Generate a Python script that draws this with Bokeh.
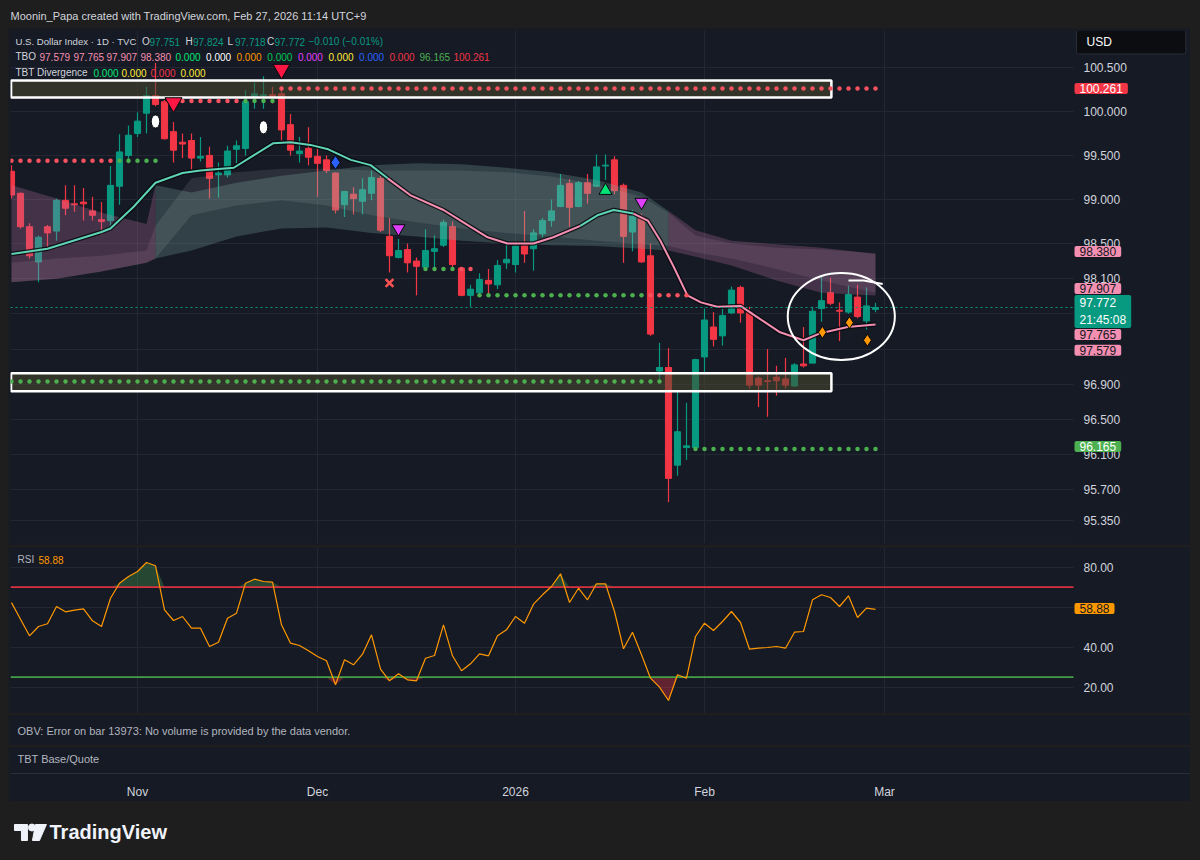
import numpy as np
from bokeh.plotting import figure
from bokeh.models import (Range1d, FixedTicker, Label, ColumnDataSource,
                          NumeralTickFormatter, BoxAnnotation)
from bokeh.layouts import column
from bokeh.embed import file_html
from bokeh.resources import INLINE

# ---------------- data ----------------
month_ticks = [14, 34, 56, 77, 97]
month_labels = ["Nov", "Dec", "2026", "Feb", "Mar"]
price_ticks = [95.35, 95.7, 96.1, 96.5, 96.9, 97.3, 97.7, 98.1, 98.5, 99.0, 99.5, 100.0, 100.5]
rsi_ticks = [20, 40, 60, 80]

opens = [99.32, 99.07, 98.69, 98.29, 98.69, 98.64, 98.99, 98.95, 98.97, 98.87,
         98.77, 98.76, 99.15, 99.50, 99.75, 99.98, 100.18, 100.11, 99.77, 99.65,
         99.67, 99.47, 99.50, 99.28, 99.28, 99.57, 99.58, 100.17, 100.18, 100.19,
         100.20, 99.85, 99.52, 99.58, 99.49, 99.45, 99.30, 98.94, 99.06, 98.98,
         99.07, 99.24, 98.58, 98.34, 98.43, 98.30, 98.23, 98.41, 98.48, 98.69,
         98.22, 97.91, 97.94, 98.08, 98.03, 98.28, 98.26, 98.48, 98.44, 98.61,
         98.76, 98.92, 99.18, 98.92, 99.19, 99.15, 99.38, 99.45, 99.16, 98.63,
         98.80, 98.36, 97.05, 97.09, 95.98, 96.18, 96.18, 97.21, 97.55, 97.45,
         97.71, 98.00, 97.72, 96.97, 96.94, 96.98, 96.96, 96.88, 97.13, 97.14,
         97.76, 97.94, 97.74, 97.72, 97.89, 97.62, 97.751]
highs = [99.39, 99.08, 98.73, 98.59, 98.71, 99.01, 99.16, 99.16, 99.13, 99.03,
         98.97, 99.38, 99.74, 99.84, 99.99, 100.28, 100.55, 100.13, 99.88, 99.75,
         99.75, 99.71, 99.60, 99.42, 99.61, 99.67, 100.24, 100.33, 100.40, 100.28,
         100.28, 99.97, 99.71, 99.82, 99.58, 99.50, 99.31, 99.10, 99.14, 99.24,
         99.33, 99.27, 98.79, 98.55, 98.50, 98.34, 98.66, 98.59, 98.77, 98.75,
         98.23, 98.03, 98.16, 98.21, 98.31, 98.50, 98.52, 98.87, 98.66, 98.79,
         99.00, 99.29, 99.23, 99.21, 99.29, 99.51, 99.51, 99.49, 99.18, 98.88,
         98.84, 98.50, 97.37, 97.31, 96.81, 96.69, 97.19, 97.76, 97.72, 97.76,
         98.01, 98.02, 97.78, 96.99, 97.30, 97.11, 97.20, 97.14, 97.55, 97.78,
         98.12, 98.11, 97.83, 98.02, 98.03, 98.00, 97.824]
lows = [99.01, 98.67, 98.33, 98.06, 98.46, 98.53, 98.82, 98.86, 98.76, 98.76,
        98.60, 98.66, 98.94, 99.41, 99.71, 99.75, 100.06, 99.68, 99.42, 99.47,
        99.34, 99.43, 99.01, 99.02, 99.25, 99.41, 99.50, 100.03, 100.03, 100.09,
        99.67, 99.50, 99.42, 99.39, 99.03, 99.30, 98.84, 98.80, 98.83, 98.83,
        98.99, 98.63, 98.17, 98.33, 98.17, 97.91, 98.21, 98.22, 98.46, 98.22,
        97.90, 97.78, 97.92, 97.91, 97.98, 98.21, 98.17, 98.28, 98.19, 98.57,
        98.69, 98.91, 98.69, 98.91, 98.95, 99.14, 99.22, 99.06, 98.28, 98.41,
        98.28, 97.45, 96.93, 95.56, 95.86, 96.04, 96.18, 97.04, 97.33, 97.34,
        97.70, 97.60, 96.85, 96.64, 96.53, 96.77, 96.85, 96.87, 97.09, 97.14,
        97.61, 97.80, 97.39, 97.70, 97.65, 97.52, 97.718]
closes = [99.05, 98.69, 98.36, 98.57, 98.62, 98.99, 98.90, 98.94, 98.95, 98.82,
          98.75, 99.16, 99.54, 99.73, 99.89, 100.18, 100.08, 99.69, 99.56, 99.63,
          99.47, 99.49, 99.24, 99.30, 99.55, 99.61, 100.11, 100.20, 100.19, 100.17,
          99.79, 99.56, 99.55, 99.48, 99.41, 99.33, 98.88, 99.09, 99.01, 99.11,
          99.25, 98.65, 98.36, 98.42, 98.28, 98.24, 98.42, 98.44, 98.74, 98.26,
          97.91, 97.98, 98.09, 98.04, 98.25, 98.32, 98.47, 98.38, 98.62, 98.76,
          98.87, 99.16, 98.91, 99.19, 99.07, 99.37, 99.39, 99.10, 98.58, 98.81,
          98.29, 97.47, 97.09, 95.83, 96.36, 96.20, 97.18, 97.63, 97.41, 97.68,
          97.97, 97.71, 96.89, 96.89, 96.93, 96.94, 96.89, 97.12, 97.11, 97.73,
          97.85, 97.82, 97.73, 97.92, 97.67, 97.79, 97.772]

rsi_vals = [62.3, 54.0, 45.7, 50.35, 51.7, 60.35, 57.7, 58.5, 59.2, 53.2,
            50.35, 64.5, 72.0, 75.35, 77.85, 82.35, 80.7, 58.7, 53.35, 55.35,
            49.5, 49.5, 40.35, 42.5, 54.5, 57.0, 72.0, 74.0, 72.85, 72.5,
            51.2, 42.0, 40.85, 38.2, 35.35, 33.2, 21.2, 33.7, 31.2, 36.5,
            46.2, 29.0, 23.2, 26.7, 23.7, 23.2, 34.5, 35.85, 51.2, 35.7,
            28.2, 31.7, 36.7, 35.7, 45.7, 48.7, 55.35, 52.0, 61.5, 66.2,
            70.35, 76.7, 62.35, 69.5, 63.7, 71.7, 71.7, 57.85, 39.2, 47.5,
            36.2, 24.5, 20.0, 13.35, 26.2, 24.5, 45.35, 52.0, 48.35, 52.85,
            57.85, 52.35, 39.0, 39.5, 39.85, 40.35, 39.5, 47.5, 47.85, 63.7,
            66.2, 64.85, 60.35, 65.7, 54.85, 59.5, 58.88]
rsi_upper = 70
rsi_lower = 25

# TBO moving-average line (sampled where read)
ma_j = [0, 4, 10, 11, 13.6, 16, 19, 21, 24.7, 26.9, 29.1, 31, 33.2, 35.2, 37.7, 39.9,
        41.8, 44.3, 48, 49.9, 52.9, 55.1, 58, 60.2, 63.2, 65.1, 66.9, 69.1, 70.7, 72.1,
        73.6, 75.1, 76.6, 78.4, 81, 82.9, 85.4, 88, 89.9, 92.9, 96]
ma_v = [98.38, 98.44, 98.63, 98.67, 98.92, 99.19, 99.30, 99.33, 99.36, 99.50, 99.64,
        99.65, 99.62, 99.57, 99.45, 99.39, 99.24, 99.05, 98.88, 98.76, 98.57, 98.50,
        98.50, 98.57, 98.70, 98.82, 98.88, 98.84, 98.76, 98.53, 98.23, 97.91, 97.83,
        97.78, 97.79, 97.66, 97.49, 97.40, 97.48, 97.55, 97.579]

# TBO cloud
cloud_j = [0, 5, 10, 15, 16, 20, 25, 30, 35, 40, 45, 50, 55, 60, 65, 70, 73, 76, 80, 85, 90, 96]
cloud_top = [99.16, 99.01, 98.85, 98.72, 99.16, 99.08, 99.19, 99.27, 99.33, 99.39, 99.41,
             99.40, 99.36, 99.31, 99.22, 99.08, 98.87, 98.65, 98.53, 98.49, 98.45, 98.38]
cloud_bot = [98.06, 98.10, 98.18, 98.28, 98.33, 98.42, 98.58, 98.67, 98.68, 98.62, 98.58,
             98.53, 98.50, 98.48, 98.47, 98.44, 98.42, 98.35, 98.25, 98.08, 97.94, 97.907]
inner_top = [98.28, 98.33, 98.36, 98.42, 98.70, 99.24, 99.31, 99.35, 99.35, 99.33, 99.33,
             99.33, 99.31, 99.26, 99.17, 99.03, 98.85, 98.59, 98.50, 98.45, 98.43, 98.39]
inner_bot = [98.06, 98.10, 98.18, 98.28, 98.33, 98.82, 98.93, 98.99, 98.93, 98.82, 98.74,
             98.67, 98.62, 98.58, 98.53, 98.49, 98.47, 98.40, 98.33, 98.21, 98.08, 97.94]

# dotted support / resistance runs: (first bar, last bar, level, side)
dot_runs = [(0, 11, 99.44, "bear"), (12, 16, 99.44, "bull"),
            (18, 25, 100.12, "bear"), (26, 29, 100.12, "bull"),
            (30, 96, 100.261, "bear"),
            (46, 49, 98.21, "bull"), (50, 51, 98.21, "bear"),
            (52, 70, 97.91, "bull"), (71, 75, 97.91, "bear"),
            (76, 96, 96.165, "bull"),
            (0, 72, 96.93, "bull")]

sell_j, sell_y = [18, 30], [100.10, 100.48]
egg_j, egg_y = [16, 28], [99.886, 99.82]
blue_j, blue_y = [36], [99.42]
purple_j, purple_y = [43, 70], [98.67, 98.97]
cross_j, cross_y = [42], [98.05]
buy_j, buy_y = [66], [99.10]
orange_j, orange_y = [90.1, 93.1, 95.1], [97.49, 97.60, 97.40]

zone_left = [-0.05, -0.05]
zone_right = [91.1, 91.1]
zone_top = [100.352, 97.026]
zone_bottom = [100.159, 96.821]

ring_j, ring_y, ring_w, ring_h = 92.2, 97.67, 11.9, 0.99
stroke_j, stroke_y = [93.0, 94.7, 96.8], [98.08, 98.08, 98.04]

last_price = 97.772
tbo_values = ["97.579", "97.765", "97.907", "98.380", "0.000", "0.000", "0.000", "0.000",
              "0.000", "0.000", "0.000", "0.000", "96.165", "100.261"]
tbt_values = ["0.000", "0.000", "0.000", "0.000"]
ohlc_text = ["97.751", "97.824", "97.718", "97.772"]

# ---------------- style ----------------
FONT = "Liberation Sans"
BG_OUT = "#1e1e1e"
BG = "#161a25"
GRID = "#232733"
TXT = "#d1d4dc"
TXT2 = "#b2b5be"
UP = "#089981"
DN = "#f23645"
PINK = "#f48fb1"
TEAL = "#5fd3b5"
DOT_R = "#f7525f"
DOT_G = "#4caf50"
SCALE_J = 118.0        # where the price scale column begins (bar units)

bars = list(range(len(opens)))
xr = Range1d(-0.111, 131.0)


def pad(lab, l, r, t, b):
    try:
        lab.padding = dict(left=l, right=r, top=t, bottom=b)
    except Exception:
        try:
            lab.padding = max(l, t)
        except Exception:
            pass
    try:
        lab.border_radius = 2
    except Exception:
        pass


def txt(fig, sx, sy, text, color, size="10px", bold=False, align="left"):
    fig.add_layout(Label(x=sx, y=sy, x_units="screen", y_units="screen", text=text,
                         text_color=color, text_font=FONT, text_font_size=size,
                         text_font_style="bold" if bold else "normal",
                         text_align=align, text_baseline="middle"))


def tag(fig, y, text, bg, fg, yoff=0, bold=False):
    lab = Label(x=1064, y=y, x_units="screen", y_units="data", y_offset=yoff, text=text,
                text_color=fg, text_font=FONT, text_font_size="12px",
                text_font_style="bold" if bold else "normal",
                text_align="left", text_baseline="middle",
                background_fill_color=bg, background_fill_alpha=1.0)
    pad(lab, 5, 5, 1, 1)
    fig.add_layout(lab)


def style_scale(f, ticks, fmt):
    f.yaxis.ticker = FixedTicker(ticks=ticks)
    f.yaxis.formatter = NumeralTickFormatter(format=fmt)
    f.yaxis.axis_line_color = None
    f.yaxis.major_tick_line_color = None
    f.yaxis.major_tick_out = 0
    f.yaxis.major_tick_in = 0
    f.yaxis.minor_tick_line_color = None
    f.yaxis.major_label_text_color = TXT
    f.yaxis.major_label_text_font = FONT
    f.yaxis.major_label_text_font_size = "12px"
    f.yaxis.major_label_standoff = -107
    f.ygrid.grid_line_color = GRID
    for g in f.xgrid:
        g.ticker = FixedTicker(ticks=month_ticks)
        g.grid_line_color = GRID
    f.add_layout(BoxAnnotation(left=SCALE_J, fill_color=BG, fill_alpha=1.0,
                               line_color=None, level="underlay"))


def base_fig(height, y_range, **kw):
    f = figure(width=1182, height=height, x_range=xr, y_range=y_range,
               toolbar_location=None, output_backend="svg",
               min_border_left=2, min_border_right=0, min_border_top=kw.pop("top", 0),
               min_border_bottom=kw.pop("bottom", 0), background_fill_color=BG,
               border_fill_color=BG, outline_line_color=None, **kw)
    return f


# ---------------- header ----------------
header = figure(width=1200, height=28, x_range=Range1d(0, 1), y_range=Range1d(0, 1),
                toolbar_location=None, output_backend="svg", min_border=0,
                x_axis_location=None, y_axis_location=None,
                background_fill_color=BG_OUT, border_fill_color=BG_OUT, outline_line_color=None)
header.xgrid.visible = False
header.ygrid.visible = False
txt(header, 8, 13, "Moonin_Papa created with TradingView.com, Feb 27, 2026 11:14 UTC+9", TXT, "11px")

# ---------------- price pane ----------------
price = base_fig(517, Range1d(95.09, 100.92), top=2, bottom=2,
                 x_axis_location=None, y_axis_location="right", margin=(0, 8, 0, 8))
style_scale(price, price_ticks, "0.000")

colors = [UP if c >= o else DN for o, c in zip(opens, closes)]
src = ColumnDataSource(dict(j=bars, o=opens, h=highs, l=lows, c=closes,
                            top=np.maximum(opens, closes), bot=np.minimum(opens, closes),
                            color=colors))
price.segment("j", "h", "j", "l", color="color", line_width=1.2, source=src)
price.vbar(x="j", width=0.68, top="top", bottom="bot", fill_color="color",
           line_color="color", line_width=1, source=src)

# cloud
MAUVE = "#c07aa5"
TEALC = "#7aaea3"
segA, segB, segC = slice(0, 5), slice(4, 17), slice(16, 22)
for sl, col in ((segA, MAUVE), (segB, TEALC), (segC, MAUVE)):
    price.varea(x=cloud_j[sl], y1=cloud_top[sl], y2=cloud_bot[sl], fill_color=col, fill_alpha=0.27)
    price.varea(x=cloud_j[sl], y1=inner_top[sl], y2=inner_bot[sl],
                fill_color="#c3cbcb" if col == TEALC else "#d7a7c3", fill_alpha=0.12)

# zones
price.quad(left=zone_left, right=zone_right, top=zone_top, bottom=zone_bottom,
           fill_color="#4a4a30", fill_alpha=0.55, line_color="#ffffff", line_width=2.5)

# MA line
segs = [(slice(0, 17), TEAL), (slice(16, 25), PINK), (slice(24, 28), TEAL), (slice(27, 41), PINK)]
price.line(ma_j, ma_v, line_color="#05070b", line_width=4.5, line_alpha=0.8)
for sl, col in segs:
    price.line(ma_j[sl], ma_v[sl], line_color=col, line_width=2)

# dotted runs
dj, dy, dc = [], [], []
for a, b, lvl, side in dot_runs:
    for k in range(a, b + 1):
        dj.append(k)
        dy.append(lvl)
        dc.append(DOT_G if side == "bull" else DOT_R)
price.scatter(dj, dy, size=4.5, color=dc, line_color=None)

# current price line (stops at the price scale)
price.segment(x0=[xr.start], y0=[last_price], x1=[SCALE_J], y1=[last_price],
              line_color=UP, line_dash="2 3", line_width=1)

# markers
price.scatter(sell_j, sell_y, marker="inverted_triangle", size=17, color="#ff1744", line_color="#05070b")
price.ellipse(egg_j, egg_y, width=0.95, height=0.15, fill_color="white", line_color="#05070b")
price.scatter(blue_j, blue_y, marker="diamond", size=14, color="#2962ff", line_color="#05070b")
price.scatter(purple_j, purple_y, marker="inverted_triangle", size=13, color="#e040fb", line_color="#05070b")
price.scatter(cross_j, cross_y, marker="x", size=11, line_color="#ff5252", line_width=2.5)
price.scatter(buy_j, buy_y, marker="triangle", size=13, color="#00e676", line_color="#05070b")
price.scatter(orange_j, orange_y, marker="diamond", size=12, color="#ff9800", line_color="#05070b")

# hand-drawn ring
price.ellipse(ring_j, ring_y, width=ring_w, height=ring_h, fill_alpha=0,
              line_color="white", line_width=2)
price.line(stroke_j, stroke_y, line_color="white", line_width=2)

# legend texts (frame-relative: x - 10, 543 - y)
txt(price, 5, 502, "U.S. Dollar Index · 1D · TVC", TXT, "9.6px")
row1_x = [131.5, 175, 217, 256.5]
row1_lab = ["O", "H", "L", "C"]
for xx, lb, vv in zip(row1_x, row1_lab, ohlc_text):
    txt(price, xx, 502, lb, TXT)
    txt(price, xx + 7.5, 502, vv, UP)
txt(price, 298, 502, "\u22120.010 (\u22120.01%)", UP)

txt(price, 5, 487, "TBO", TXT)
tbo_x = [29, 63, 96, 130, 165, 195.6, 226, 256.8, 287.4, 318, 348.6, 379, 409, 443]
tbo_c = [PINK, PINK, PINK, PINK, "#00e676", "#ffffff", "#ff9800", "#00c853", "#e040fb",
         "#ffeb3b", "#2962ff", "#f23645", DOT_G, "#f23645"]
for xx, vv, cc in zip(tbo_x, tbo_values, tbo_c):
    txt(price, xx, 487, vv, cc)

txt(price, 5, 471, "TBT Divergence", TXT)
tbt_x = [83, 111, 140, 170]
tbt_c = ["#00e676", "#ffeb3b", "#f23645", "#ffeb3b"]
for xx, vv, cc in zip(tbt_x, tbt_values, tbt_c):
    txt(price, xx, 471, vv, cc)

# USD box
usd = Label(x=1066, y=501.5, x_units="screen", y_units="screen", text="USD",
            text_color="#ffffff", text_font=FONT, text_font_size="12px",
            text_align="left", text_baseline="middle",
            background_fill_color="#0c0d10", border_line_color="#2a2e39")
pad(usd, 10, 74, 5, 5)
price.add_layout(usd)

# price scale tags
tag(price, 100.261, "100.261", "#f23645", "#ffffff")
tag(price, 98.380, "98.380", PINK, "#131722", yoff=2.5)
tag(price, 97.907, "97.907", PINK, "#131722", yoff=7)
tag(price, last_price, "97.772\n21:45:08", UP, "#ffffff", yoff=-4)
tag(price, 97.765, "97.765", PINK, "#131722", yoff=-26.5)
tag(price, 97.579, "97.579", PINK, "#131722", yoff=-25.7)
tag(price, 96.165, "96.165", "#4caf50", "#ffffff", yoff=2.4)

# ---------------- RSI pane ----------------
rsi = base_fig(166, Range1d(6.85, 89.85), x_axis_location=None, y_axis_location="right",
               margin=(2, 8, 0, 8))
style_scale(rsi, rsi_ticks, "0.00")

rsi_arr = np.array(rsi_vals)
n = len(rsi_vals)
rsi.varea(x=bars, y1=[rsi_upper] * n, y2=np.maximum(rsi_arr, rsi_upper),
          fill_color="#4caf50", fill_alpha=0.3)
rsi.varea(x=bars, y1=[rsi_lower] * n, y2=np.minimum(rsi_arr, rsi_lower),
          fill_color="#f23645", fill_alpha=0.35)
rsi.segment(x0=[xr.start, xr.start], y0=[rsi_upper, rsi_lower], x1=[SCALE_J, SCALE_J],
            y1=[rsi_upper, rsi_lower], line_color=["#d9323f", "#43a047"], line_width=1.8)
rsi.line(bars, rsi_vals, line_color="#ff9800", line_width=1.2)
txt(rsi, 7, 154, "RSI", TXT2)
txt(rsi, 28, 154, "58.88", "#ff9800")
tag(rsi, rsi_vals[-1], "58.88", "#ff9800", "#131722", yoff=1)

# ---------------- OBV pane ----------------
obv = base_fig(30, Range1d(0, 1), x_axis_location=None, y_axis_location=None,
               margin=(2, 8, 0, 8))
obv.xgrid.visible = False
obv.ygrid.visible = False
txt(obv, 7, 15, "OBV: Error on bar 13973: No volume is provided by the data vendor.", TXT2, "11px")

# ---------------- TBT pane + time axis ----------------
tbt = base_fig(54, Range1d(0, 1), bottom=24, x_axis_location="below", y_axis_location=None,
               margin=(2, 8, 0, 8))
tbt.xaxis.ticker = FixedTicker(ticks=month_ticks)
tbt.xaxis.major_label_overrides = {t: s for t, s in zip(month_ticks, month_labels)}
tbt.xaxis.axis_line_color = "#2a2e39"
tbt.xaxis.major_tick_line_color = None
tbt.xaxis.minor_tick_line_color = None
tbt.xaxis.major_label_text_color = TXT
tbt.xaxis.major_label_text_font = FONT
tbt.xaxis.major_label_text_font_size = "12px"
tbt.xaxis.major_label_standoff = 5
tbt.xgrid.visible = False
tbt.ygrid.visible = False
txt(tbt, 7, 15, "TBT Base/Quote", TXT2, "11px")

# ---------------- footer ----------------
footer = figure(width=1200, height=59, x_range=Range1d(0, 1200), y_range=Range1d(59, 0),
                toolbar_location=None, output_backend="svg", min_border=0,
                x_axis_location=None, y_axis_location=None,
                background_fill_color=BG_OUT, border_fill_color=BG_OUT, outline_line_color=None)
footer.xgrid.visible = False
footer.ygrid.visible = False
footer.patch([12, 25, 25, 19, 19, 12], [23, 23, 39, 39, 29, 29], color="#f0f3fa")
footer.scatter([29.5], [26], size=7, color="#f0f3fa")
footer.patch([33, 44, 37, 30], [23, 23, 39, 39], color="#f0f3fa")
txt(footer, 47, 29, "TradingView", "#f0f3fa", "20px", bold=True)

layout = column(header, price, rsi, obv, tbt, footer, spacing=0,
                styles={"background-color": BG_OUT})

open("out.html", "w").write(file_html(layout, INLINE))
